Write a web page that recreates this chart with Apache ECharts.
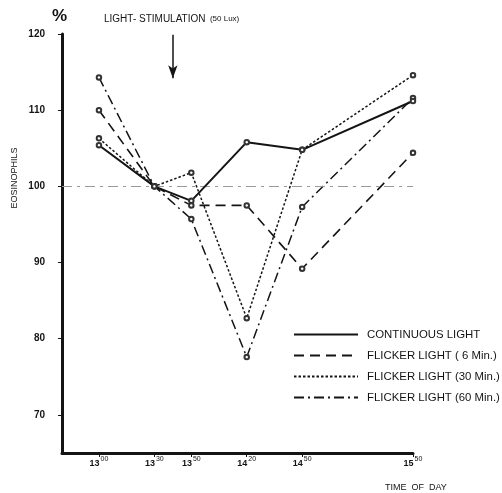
<!DOCTYPE html>
<html>
<head>
<meta charset="utf-8">
<script src="https://cdn.jsdelivr.net/npm/echarts@6/dist/echarts.min.js"></script>
<style>
  html, body { margin: 0; padding: 0; background: #fff; }
  #chart { width: 502px; height: 493px; }
</style>
</head>
<body>
<div id="chart"></div>
<script>
// Sampling times (time of day) and eosinophil counts in % of the 13:30 value
const sampleTimes = ['13:00', '13:30', '13:50', '14:20', '14:50', '15:50'];
const continuousLight = [105.4, 100, 98.1, 105.8, 104.8, 111.2];
const flicker6Min = [110.0, 100, 97.5, 97.5, 89.2, 104.4];
const flicker30Min = [106.3, 100, 101.8, 82.7, 104.8, 114.6];
const flicker60Min = [114.3, 100, 95.7, 77.6, 97.3, 111.6];
const seriesNames = [
  'CONTINUOUS LIGHT',
  'FLICKER LIGHT ( 6 Min.)',
  'FLICKER LIGHT (30 Min.)',
  'FLICKER LIGHT (60 Min.)'
];
const yTickValues = [70, 80, 90, 100, 110, 120];
const stimulationTime = '13:40';
const baselineValue = 100;

const toMinutes = t => { const p = t.split(':'); return +p[0] * 60 + +p[1]; };
const xTickValues = sampleTimes.map(toMinutes);
const ink = '#141414';
const font = '"Liberation Sans", Arial, sans-serif';

function pairs(values) {
  return values.map((v, i) => [toMinutes(sampleTimes[i]), v]);
}

function makeSeries(name, values, lineType, width, extra) {
  return Object.assign({
    name: name,
    type: 'line',
    data: pairs(values),
    symbol: 'emptyCircle',
    symbolSize: 4.5,
    showSymbol: true,
    itemStyle: { color: '#333', borderWidth: 0.6 },
    lineStyle: { color: ink, width: width, type: lineType },
    emphasis: { disabled: true },
    animation: false
  }, extra || {});
}

const chart = echarts.init(document.getElementById('chart'), null, { renderer: 'canvas' });
const stimX = toMinutes(stimulationTime);

chart.setOption({
  backgroundColor: '#fff',
  animation: false,
  grid: { left: 62, right: 89, top: 34, bottom: 40 },
  xAxis: {
    type: 'value',
    min: 760,
    max: 950,
    axisLine: { show: true, lineStyle: { color: ink, width: 3 } },
    axisTick: { show: true, customValues: xTickValues, length: 4, lineStyle: { color: ink, width: 1 } },
    splitLine: { show: false },
    axisLabel: {
      customValues: xTickValues,
      margin: 3,
      formatter: v => {
        const h = Math.floor(v / 60), m = v % 60;
        return '{b|' + h + '}{s|' + (m < 10 ? '0' + m : m) + '}';
      },
      rich: {
        b: { fontFamily: font, fontSize: 9, fontWeight: 'bold', color: ink, verticalAlign: 'bottom', lineHeight: 12 },
        s: { fontFamily: font, fontSize: 7, color: ink, verticalAlign: 'top', lineHeight: 12, padding: [0, 0, 5, 1] }
      }
    }
  },
  yAxis: {
    type: 'value',
    min: 65,
    max: 120,
    axisLine: { show: true, lineStyle: { color: ink, width: 3 } },
    axisTick: { show: true, customValues: yTickValues, length: 4, lineStyle: { color: ink, width: 1 } },
    splitLine: { show: false },
    axisLabel: {
      customValues: yTickValues,
      margin: 17,
      fontFamily: font,
      fontSize: 10,
      fontWeight: 'bold',
      color: ink
    }
  },
  legend: {
    orient: 'vertical',
    left: 293,
    top: 329,
    padding: 0,
    itemWidth: 64,
    itemHeight: 10,
    itemGap: 10,
    selectedMode: false,
    itemStyle: { opacity: 0 },
    textStyle: { fontFamily: font, fontSize: 11.4, color: ink, padding: [0, 0, 0, 4], lineHeight: 10 },
    data: seriesNames
  },
  series: [
    makeSeries(seriesNames[0], continuousLight, 'solid', 2, {
      z: 5,
      markLine: {
        silent: true,
        animation: false,
        label: { show: false },
        data: [
          [
            { coord: [stimX, 119.9], symbol: 'none' },
            { coord: [stimX, 114.2], symbol: 'arrow', symbolSize: [7, 13] }
          ],
          [
            { coord: [760, baselineValue], symbol: 'none', lineStyle: { color: '#9a9a9a', width: 1, type: [10, 5, 3, 5] } },
            { coord: [950, baselineValue], symbol: 'none' }
          ]
        ],
        lineStyle: { color: ink, width: 1.5, type: 'solid' }
      }
    }),
    makeSeries(seriesNames[1], flicker6Min, [10, 6], 1.6),
    makeSeries(seriesNames[2], flicker30Min, [2.5, 2], 1.5),
    makeSeries(seriesNames[3], flicker60Min, [10, 4, 2, 4], 1.5)
  ],
  graphic: [
    {
      type: 'text', left: 52, top: 8,
      style: { text: '%', fontFamily: font, fontSize: 17, fontWeight: 'bold', fill: ink }
    },
    {
      type: 'text', left: 104, top: 14,
      style: {
        text: '{a|LIGHT- STIMULATION}{c|  (50 Lux)}',
        rich: {
          a: { fontFamily: font, fontSize: 10, fill: ink, fontWeight: 500 },
          c: { fontFamily: font, fontSize: 8, fill: ink }
        }
      }
    },
    {
      type: 'text', x: 15, y: 178, rotation: Math.PI / 2,
      style: { text: 'EOSINOPHILS', fontFamily: font, fontSize: 9, fill: ink, align: 'center', verticalAlign: 'middle' }
    },
    {
      type: 'text', left: 385, top: 483,
      style: { text: 'TIME  OF  DAY', fontFamily: font, fontSize: 9, fill: ink }
    }
  ]
});
</script>
</body>
</html>
